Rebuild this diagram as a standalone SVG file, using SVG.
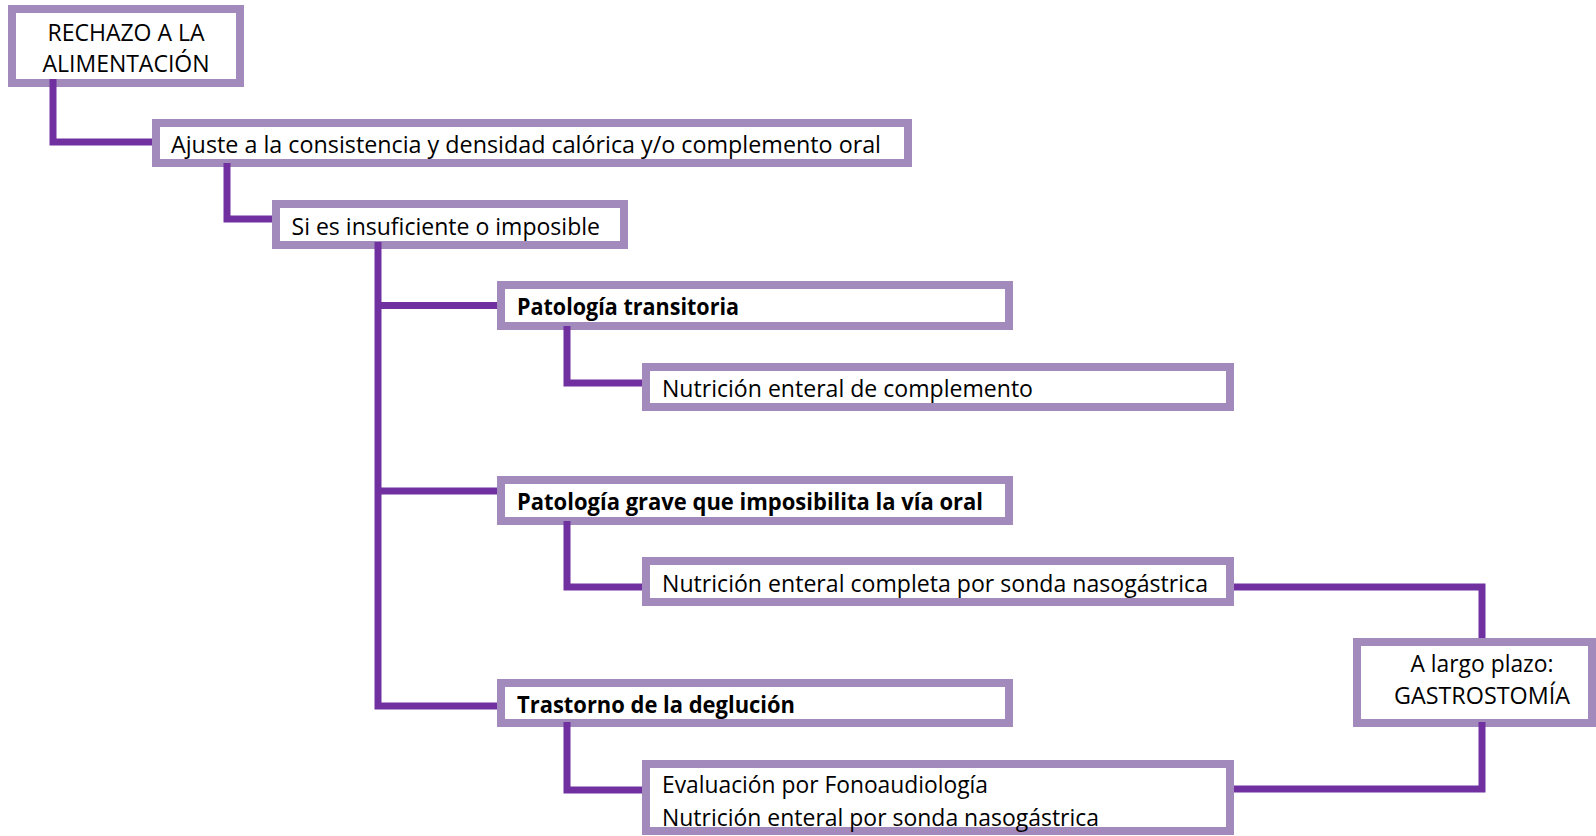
<svg xmlns="http://www.w3.org/2000/svg" width="1596" height="836" viewBox="0 0 1596 836">
  <style>
    .box { fill: #ffffff; stroke: #A28ABD; stroke-width: 8; }
    .lbl { font-family: "Open Sans", "Noto Sans", "Liberation Sans", sans-serif; font-size: 23.5px; fill: #000000; }
    .b { font-weight: 700; }
    .mid { text-anchor: middle; }
    .conn { fill: none; stroke: #7030A0; stroke-width: 7; stroke-linejoin: miter; stroke-linecap: butt; }
  </style>
  <rect width="1596" height="836" fill="#ffffff"/>

  <g id="n-rechazo">
    <rect class="box" x="12" y="9" width="228" height="74"/>
    <text class="lbl mid" x="126" y="40.5" textLength="157" lengthAdjust="spacingAndGlyphs">RECHAZO A LA</text>
    <text class="lbl mid" x="126" y="71.5" textLength="167" lengthAdjust="spacingAndGlyphs">ALIMENTACIÓN</text>
  </g>

  <g id="n-ajuste">
    <rect class="box" x="156" y="123" width="752" height="40"/>
    <text class="lbl" x="171" y="153" textLength="710" lengthAdjust="spacingAndGlyphs">Ajuste a la consistencia y densidad calórica y/o complemento oral</text>
  </g>

  <g id="n-insuficiente">
    <rect class="box" x="276" y="204" width="348" height="41"/>
    <text class="lbl" x="291.5" y="234.5" textLength="308.5" lengthAdjust="spacingAndGlyphs">Si es insuficiente o imposible</text>
  </g>

  <g id="n-transitoria">
    <rect class="box" x="501" y="285" width="508" height="41"/>
    <text class="lbl b" x="517" y="315" textLength="222" lengthAdjust="spacingAndGlyphs">Patología transitoria</text>
  </g>

  <g id="n-complemento">
    <rect class="box" x="646" y="367" width="584" height="40"/>
    <text class="lbl" x="662" y="397" textLength="371" lengthAdjust="spacingAndGlyphs">Nutrición enteral de complemento</text>
  </g>

  <g id="n-grave">
    <rect class="box" x="501" y="480" width="508" height="41"/>
    <text class="lbl b" x="517" y="510" textLength="466" lengthAdjust="spacingAndGlyphs">Patología grave que imposibilita la vía oral</text>
  </g>

  <g id="n-completa">
    <rect class="box" x="646" y="561" width="584" height="41"/>
    <text class="lbl" x="662" y="591.5" textLength="546" lengthAdjust="spacingAndGlyphs">Nutrición enteral completa por sonda nasogástrica</text>
  </g>

  <g id="n-deglucion">
    <rect class="box" x="501" y="683" width="508" height="40"/>
    <text class="lbl b" x="517" y="712.5" textLength="278" lengthAdjust="spacingAndGlyphs">Trastorno de la deglución</text>
  </g>

  <g id="n-fonoaudiologia">
    <rect class="box" x="646" y="764" width="584" height="67"/>
    <text class="lbl" x="662" y="793" textLength="326" lengthAdjust="spacingAndGlyphs">Evaluación por Fonoaudiología</text>
    <text class="lbl" x="662" y="825.5" textLength="437" lengthAdjust="spacingAndGlyphs">Nutrición enteral por sonda nasogástrica</text>
  </g>

  <g id="n-gastrostomia">
    <rect class="box" x="1357" y="642" width="235" height="81"/>
    <text class="lbl mid" x="1482" y="671.5" textLength="143" lengthAdjust="spacingAndGlyphs">A largo plazo:</text>
    <text class="lbl mid" x="1482" y="703.5" textLength="176" lengthAdjust="spacingAndGlyphs">GASTROSTOMÍA</text>
  </g>

  <!-- elbow connectors between the boxes -->
  <g id="connectors">
    <path class="conn" d="M53,79 V142 H152"/>
    <path class="conn" d="M227,163 V219 H272"/>
    <path class="conn" d="M378,242 V706 H497 M378,305.5 H497 M378,491 H497"/>
    <path class="conn" d="M567,326 V383 H642"/>
    <path class="conn" d="M567,521 V587 H642"/>
    <path class="conn" d="M567,722 V790 H642"/>
    <path class="conn" d="M1234,587 H1482 V638"/>
    <path class="conn" d="M1482,722 V789 H1234"/>
  </g>
</svg>
